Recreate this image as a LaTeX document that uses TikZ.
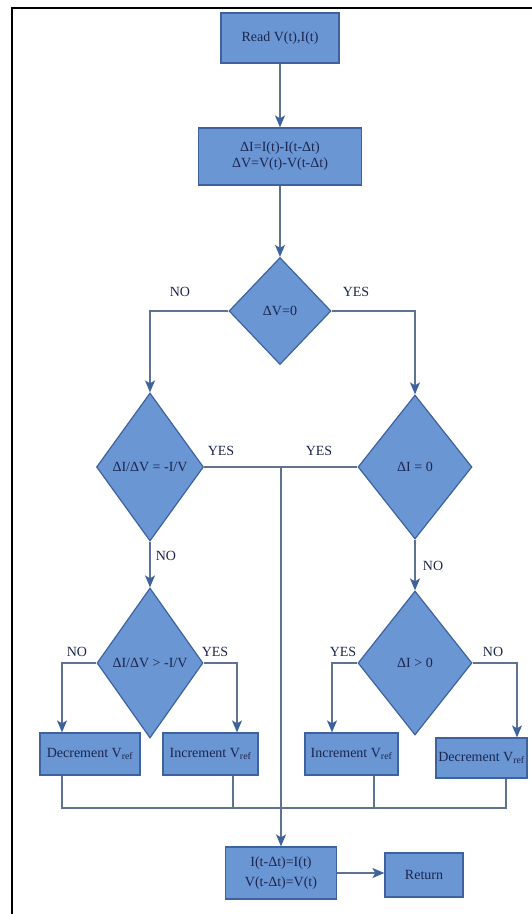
\documentclass[tikz,border=0pt]{standalone}
\usepackage{fontspec}
\setmainfont{Liberation Serif}
\usetikzlibrary{shapes.geometric,arrows.meta}
\definecolor{boxblue}{RGB}{106,150,212}
\definecolor{edgeblue}{RGB}{62,98,158}
\definecolor{linegray}{RGB}{96,114,146}
\definecolor{inkblue}{RGB}{28,38,78}
\begin{document}
\begin{tikzpicture}[x=1pt, y=-1pt,
  >={Stealth[length=12pt,width=10pt,inset=3pt,color=edgeblue]},
  txt/.style={font=\fontsize{14}{16}\selectfont, text=inkblue},
  stepbox/.style={txt, draw=edgeblue, fill=boxblue, line width=1.2pt, inner sep=0pt, align=center},
  test/.style={txt, diamond, draw=edgeblue, fill=boxblue, line width=1.2pt, inner sep=0pt},
  flow/.style={draw=linegray, line width=1.6pt}]
\useasboundingbox (0,0) rectangle (532,914);
% frame
\draw[line width=2pt] (12,914) -- (12,8) -- (532,8);

% steps
\node[stepbox, minimum width=118, minimum height=50] (read) at (280,38) {Read V(t),I(t)};
\node[stepbox, minimum width=163, minimum height=57] (diff) at (280,156.5) {ΔI=I(t)-I(t-Δt)\\ΔV=V(t)-V(t-Δt)};
\node[test, minimum width=102, minimum height=107] (dv) at (280,311) {ΔV=0};
\node[test, minimum width=107, minimum height=148] (slope) at (150,467) {ΔI/ΔV = -I/V};
\node[test, minimum width=114, minimum height=144] (di) at (415,467) {ΔI = 0};
\node[test, minimum width=106, minimum height=150] (grad) at (150,663) {ΔI/ΔV > -I/V};
\node[test, minimum width=114, minimum height=144] (dipos) at (415,663) {ΔI > 0};
\node[stepbox, minimum width=100, minimum height=42] (decA) at (90,754) {Decrement V\textsubscript{ref}};
\node[stepbox, minimum width=95, minimum height=42] (incA) at (210.5,754) {Increment V\textsubscript{ref}};
\node[stepbox, minimum width=93, minimum height=42] (incB) at (351.5,754) {Increment V\textsubscript{ref}};
\node[stepbox, minimum width=91, minimum height=40] (decB) at (481.5,758) {Decrement V\textsubscript{ref}};
\node[stepbox, minimum width=111, minimum height=52] (upd) at (281,873) {I(t-Δt)=I(t)\\[4pt]V(t-Δt)=V(t)};
\node[stepbox, minimum width=78, minimum height=44] (ret) at (424,875) {Return};

% labels
\node[txt] (noA) at (180,292) {NO};
\node[txt] (yesA) at (356,292) {YES};
\node[txt] (yesB) at (221,451) {YES};
\node[txt] (yesC) at (319,451) {YES};
\node[txt] (noB) at (166,556) {NO};
\node[txt] (noC) at (433,566) {NO};
\node[txt] (noD) at (77,652) {NO};
\node[txt] (yesD) at (215,652) {YES};
\node[txt] (yesE) at (343,652) {YES};
\node[txt] (noE) at (493,652) {NO};

\coordinate (join) at (281,467);
\coordinate (bus) at (281,808);

% connectors
\draw[flow,->] (read) -- (diff);
\draw[flow,->] (diff) -- (dv);
\draw[flow,->] (dv.west) -| (slope.north);
\draw[flow,->] (dv.east) -| (di.north);
\draw[flow] (slope.east) -- (di.west);
\draw[flow,->] (join) -- (upd.north);
\draw[flow,->] (slope.south) -- (grad.north);
\draw[flow,->] (di.south) -- (dipos.north);
\draw[flow,->] (grad.west) -| ([xshift=-28pt]decA.north);
\draw[flow,->] (grad.east) -| ([xshift=26.5pt]incA.north);
\draw[flow,->] (dipos.west) -| ([xshift=-19.5pt]incB.north);
\draw[flow,->] (dipos.east) -| ([xshift=35.5pt]decB.north);
\draw[flow] ([xshift=-28pt]decA.south) |- (bus);
\draw[flow] ([xshift=22.5pt]incA.south) |- (bus);
\draw[flow] ([xshift=22.5pt]incB.south) |- (bus);
\draw[flow] ([xshift=24.5pt]decB.south) |- (bus);
\draw[flow,->] (upd.east) -- (upd.east -| ret.west);
\end{tikzpicture}
\end{document}
